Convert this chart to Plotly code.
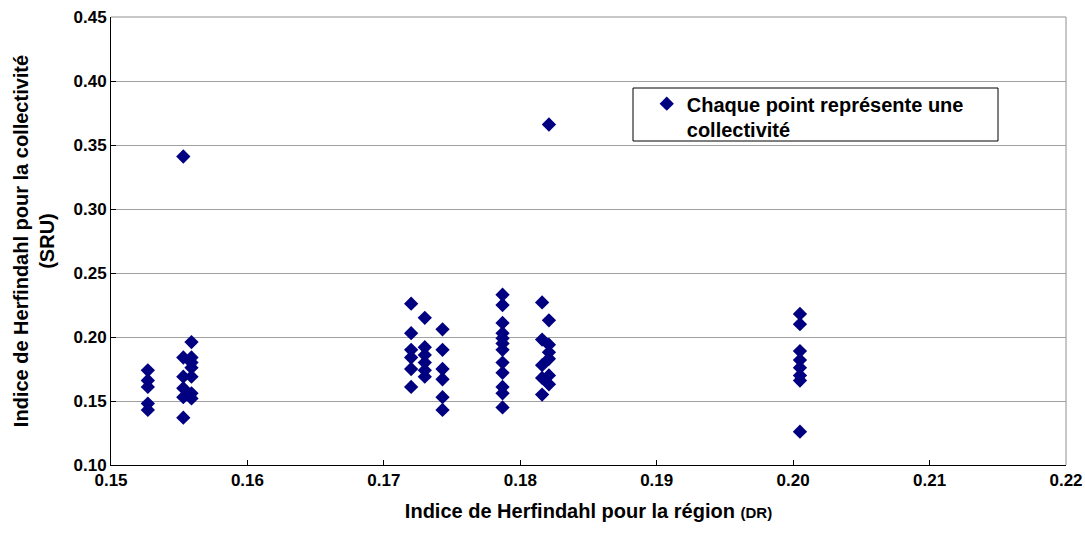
import plotly.graph_objects as go

# Herfindahl index for the region (DR) — x values
region_hhi = (
    [0.1527] * 5
    + [0.1553] * 6
    + [0.1559] * 7
    + [0.1720] * 6
    + [0.1730] * 6
    + [0.1743] * 6
    + [0.1787] * 12
    + [0.1816] * 5
    + [0.1821] * 7
    + [0.2005] * 8
)

# Herfindahl index for the collectivity (SRU) — y values
collectivite_hhi = (
    [0.174, 0.166, 0.161, 0.148, 0.143]
    + [0.341, 0.184, 0.169, 0.160, 0.153, 0.137]
    + [0.196, 0.184, 0.180, 0.176, 0.169, 0.156, 0.152]
    + [0.226, 0.203, 0.190, 0.184, 0.175, 0.161]
    + [0.215, 0.192, 0.186, 0.180, 0.174, 0.169]
    + [0.206, 0.190, 0.175, 0.167, 0.153, 0.143]
    + [0.233, 0.225, 0.211, 0.203, 0.199, 0.195, 0.190, 0.180, 0.172, 0.161, 0.156, 0.145]
    + [0.227, 0.198, 0.178, 0.168, 0.155]
    + [0.366, 0.213, 0.194, 0.188, 0.183, 0.170, 0.163]
    + [0.218, 0.210, 0.189, 0.182, 0.176, 0.170, 0.166, 0.126]
)

x_ticks = [0.15, 0.16, 0.17, 0.18, 0.19, 0.20, 0.21, 0.22]
y_ticks = [0.10, 0.15, 0.20, 0.25, 0.30, 0.35, 0.40, 0.45]

FONT = "Arial, 'Liberation Sans', sans-serif"

fig = go.Figure()
fig.add_trace(go.Scatter(
    x=region_hhi, y=collectivite_hhi, mode="markers",
    name="<b>Chaque point représente une<br>collectivité</b>",
    marker=dict(symbol="diamond", size=11, color="#000080",
                line=dict(width=0)),
    showlegend=True,
))

fig.update_layout(
    width=1085, height=534,
    margin=dict(l=111, r=19, t=17, b=69, autoexpand=False),
    paper_bgcolor="white", plot_bgcolor="white",
    font=dict(family=FONT, color="black", size=17),
    xaxis=dict(
        range=[0.15, 0.22], tickvals=x_ticks,
        ticktext=[f"<b>{v:.2f}</b>" for v in x_ticks],
        showgrid=False, zeroline=False, automargin=False,
        showline=True, linecolor="black", linewidth=1,
        ticks="inside", ticklen=5, tickcolor="black",
        tickfont=dict(size=17), ticklabeloverflow="allow",
        title=dict(text="<b>Indice de Herfindahl pour la région <span style='font-size:15px'>(DR)</span></b>",
                   font=dict(size=20), standoff=14),
    ),
    yaxis=dict(
        range=[0.10, 0.45], tickvals=y_ticks,
        ticktext=[f"<b>{v:.2f}</b>" for v in y_ticks],
        showgrid=True, gridcolor="#a0a0a0", gridwidth=1,
        zeroline=False, automargin=False,
        showline=True, linecolor="black", linewidth=1,
        ticks="inside", ticklen=5, tickcolor="black",
        tickfont=dict(size=17), ticklabeloverflow="allow",
        title=dict(text="<b>Indice de Herfindahl pour la collectivité<br>(SRU)</b>",
                   font=dict(size=20), standoff=13),
    ),
    legend=dict(
        x=0.561, y=0.85, xanchor="left", yanchor="top",
        bgcolor="rgba(0,0,0,0)", borderwidth=0,
        font=dict(size=20), valign="top", itemwidth=30,
    ),
    shapes=[
        dict(type="line", xref="paper", yref="paper", x0=0, x1=1, y0=1, y1=1,
             line=dict(color="#909090", width=1)),
        dict(type="line", xref="paper", yref="paper", x0=1, x1=1, y0=0, y1=1,
             line=dict(color="#909090", width=1)),
        dict(type="rect", xref="paper", yref="paper",
             x0=(633 - 111) / 955, x1=(998 - 111) / 955,
             y0=(465 - 141) / 448, y1=(465 - 88) / 448,
             line=dict(color="black", width=1), fillcolor="white", layer="below"),
    ],
)

fig.write_html(
    "out.html",
    config={"displayModeBar": False},
    post_script="document.body.style.margin='0';document.body.style.padding='0';",
)
